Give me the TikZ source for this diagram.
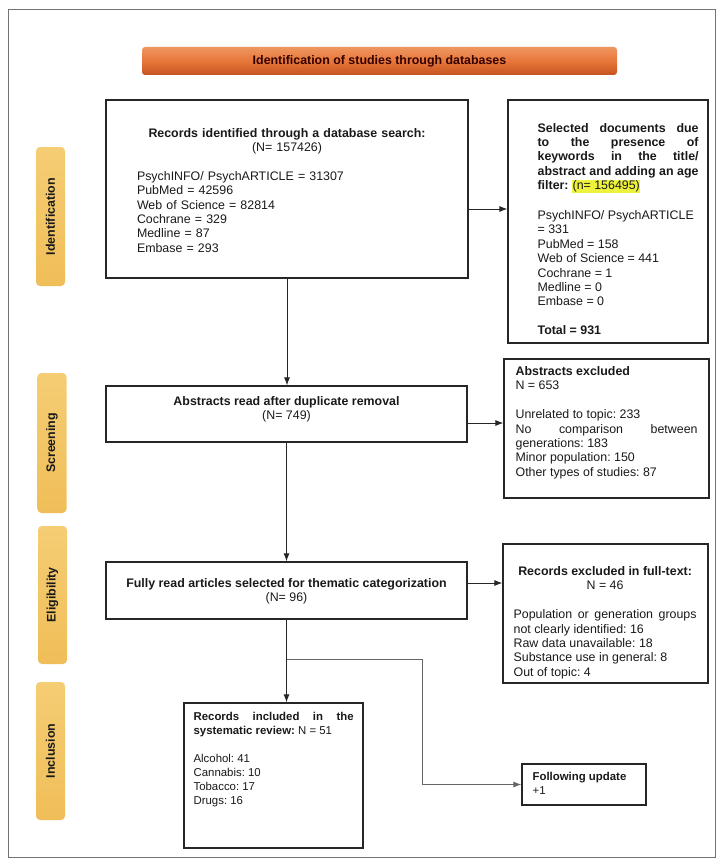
\documentclass[tikz,border=0pt]{standalone}
\usepackage{fontspec}
\setmainfont{Liberation Sans}
\frenchspacing
\usetikzlibrary{arrows.meta}

\definecolor{hl}{HTML}{EDF23C}
\definecolor{bannerT}{HTML}{EE9660}
\definecolor{bannerM}{HTML}{E8773A}
\definecolor{bannerB}{HTML}{C4531F}
\definecolor{phaseT}{HTML}{F5CD74}
\definecolor{phaseB}{HTML}{F0BE58}
\setlength{\fboxsep}{0.6pt}

\begin{document}
\begin{tikzpicture}[x=1pt, y=-1pt,
  stagebox/.style={draw=black!85, line width=1.2pt, inner sep=0pt},
  txt/.style={inner sep=0pt, text=black!90, font=\fontsize{12.4}{14.4}\selectfont},
  smalltxt/.style={txt, font=\fontsize{11.4}{14}\selectfont},
  banner/.style={rounded corners=3pt, top color=bannerT, bottom color=bannerB, middle color=bannerM,
    inner sep=0pt, text=black!80!red, font=\bfseries\fontsize{12.4}{14.4}\selectfont},
  phase/.style={rounded corners=4pt, top color=phaseT, bottom color=phaseB, rotate=90,
    minimum height=29, inner sep=0pt, text=black!90, font=\bfseries\fontsize{12.4}{14.4}\selectfont},
  link/.style={draw=black!85, line width=0.9pt, -{Latex[length=8pt,width=6pt]}}]

  \useasboundingbox (0,0) rectangle (723,864);
  \draw[black!55, line width=0.6pt] (8,9) rectangle (715,857);

  % banner and phases
  \node[banner, minimum width=475, minimum height=28] (title) at (379.5,61) {Identification of studies through databases};

  \node[phase, minimum width=139] (idphase) at (50.5,216.5) {Identification};
  \node[phase, minimum width=140] (scrphase) at (52,443) {Screening};
  \node[phase, minimum width=138] (eligphase) at (52.5,595) {Eligibility};
  \node[phase, minimum width=138] (inclphase) at (50.5,751) {Inclusion};

  % identification
  \node[stagebox, minimum width=362, minimum height=178] (rec) at (287,189) {};
  \node[txt, text width=300, anchor=north] (rectxt) at ([shift={(0,28.5)}]rec.north) {%
    \centering\textbf{Records identified through a database search:}\\(N= 157426)\par
    \vspace{14.4pt}\raggedright
    PsychINFO/ PsychARTICLE = 31307\\PubMed = 42596\\Web of Science = 82814\\Cochrane = 329\\Medline = 87\\Embase = 293\par};

  \node[stagebox, minimum width=200, minimum height=243] (sel) at (608,221.5) {};
  \node[txt, text width=161, align=justify, anchor=north west] (seltxt) at ([shift={(30,23.5)}]sel.north west) {%
    \textbf{Selected documents due\linebreak to the presence of\linebreak keywords in the title/\linebreak
    abstract and adding an age\linebreak filter:} \colorbox{hl}{(n= 156495)}\par
    \vspace{15.5pt}
    PsychINFO/ PsychARTICLE\par = 331\par PubMed = 158\par Web of Science = 441\par Cochrane = 1\par Medline = 0\par Embase = 0\par
    \vspace{14.4pt}\textbf{Total = 931}\par};

  % screening
  \node[stagebox, minimum width=361, minimum height=56] (abs) at (286.5,414) {};
  \node[txt, align=center, anchor=north] (abstxt) at ([shift={(0,11)}]abs.north) {%
    \textbf{Abstracts read after duplicate removal}\\(N= 749)};

  \node[stagebox, minimum width=205, minimum height=139] (absex) at (606.5,428.5) {};
  \node[txt, text width=182, align=justify, anchor=north west] (absextxt) at ([shift={(12,8)}]absex.north west) {%
    \textbf{Abstracts excluded}\par N = 653\par
    \vspace{14.4pt}
    Unrelated to topic: 233\par No comparison between\linebreak generations: 183\par Minor population: 150\par Other types of studies: 87\par};

  % eligibility
  \node[stagebox, minimum width=361, minimum height=57] (full) at (286.5,590.5) {};
  \node[txt, align=center, anchor=north] (fulltxt) at ([shift={(0,16.5)}]full.north) {%
    \textbf{Fully read articles selected for thematic categorization}\\(N= 96)};

  \node[stagebox, minimum width=205, minimum height=139] (fullex) at (605.5,613.5) {};
  \node[txt, text width=183, align=justify, anchor=north west] (fullextxt) at ([shift={(11,23)}]fullex.north west) {%
    {\centering\textbf{Records excluded in full-text:}\par N = 46\par}
    \vspace{14.4pt}
    Population or generation groups\linebreak not clearly identified: 16\par Raw data unavailable: 18\par Substance use in general: 8\par Out of topic: 4\par};

  % inclusion
  \node[stagebox, minimum width=179, minimum height=145] (incl) at (273.5,775.5) {};
  \node[smalltxt, text width=160, align=justify, anchor=north west] (incltxt) at ([shift={(10,10)}]incl.north west) {%
    \textbf{Records included in the\linebreak systematic review:} N = 51\par
    \vspace{14pt}
    Alcohol: 41\par Cannabis: 10\par Tobacco: 17\par Drugs: 16\par};

  \node[stagebox, minimum width=124, minimum height=41] (upd) at (584,784.5) {};
  \node[smalltxt, align=left, anchor=north west] (updtxt) at ([shift={(11,9)}]upd.north west) {%
    \textbf{Following update}\\+1};

  % connectors
  \coordinate (recout) at ([shift={(0,20)}]rec.east);
  \coordinate (absout) at ([shift={(0,9)}]abs.east);
  \coordinate (fullout) at ([shift={(0,-7.5)}]full.east);
  \coordinate (split) at ([shift={(0,40)}]full.south);
  \coordinate (bend) at ([shift={(135.5,0)}]split);

  \draw[link] (rec.south) -- (rec.south |- abs.north);
  \draw[link] (abs.south) -- (abs.south |- full.north);
  \draw[link] (full.south) -- (full.south |- incl.north);
  \draw[link] (recout) -- (recout -| sel.west);
  \draw[link] (absout) -- (absout -| absex.west);
  \draw[link] (fullout) -- (fullout -| fullex.west);
  \draw[link, draw=black!60] (split) -- (bend) |- (upd.west);
\end{tikzpicture}
\end{document}
